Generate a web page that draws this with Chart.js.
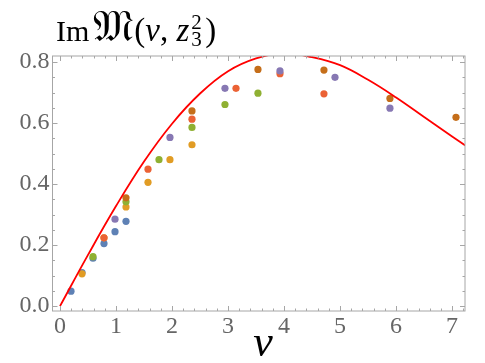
<!DOCTYPE html>
<html>
<head>
<meta charset="utf-8">
<script src="https://cdn.jsdelivr.net/npm/chart.js@4"></script>
<style>
  html, body { margin: 0; padding: 0; background: #fff; }
  #wrap { position: relative; width: 485px; height: 363px; }
  #title {
    position: absolute; left: 56px; top: 5px; height: 44px;
    font-family: 'Liberation Serif', 'DejaVu Serif', serif; font-size: 30px; line-height: 44px;
    color: #000; white-space: nowrap;
  }
  #title .frak { font-size: 44px; margin-left: 4px; margin-right: 1px; }
  #title .m { font-size: 33px; }
  #title .ss { display: inline-block; position: relative; width: 16px; height: 1px; }
  #title .ss span { position: absolute; left: 2px; font-size: 21px; line-height: 21px; }
  #title .ss .sup { bottom: 8px; }
  #title .ss .sub { bottom: -9px; }
  #xlabel {
    position: absolute; left: 200px; width: 126px; top: 320px; text-align: center;
    font: italic 44px 'Liberation Serif', 'DejaVu Serif', serif; line-height: 44px;
  }
</style>
</head>
<body>
<div id="wrap">
  <canvas id="chart" width="485" height="363"></canvas>
  <div id="title">Im<span class="frak">&#x1D510;</span><span class="m">(<i>ν</i>, <i>z</i><span class="ss"><span class="sup">2</span><span class="sub">3</span></span>)</span></div>
  <div id="xlabel">ν</div>
</div>
<script>
// nu values and Im M for each z
const blueNu = [0.196, 0.393, 0.589, 0.785, 0.982, 1.178]
const blueIm = [0.049, 0.110, 0.157, 0.205, 0.244, 0.278]
const orangeNu = [0.393, 0.785, 1.178, 1.571, 1.963, 2.356]
const orangeIm = [0.106, 0.224, 0.325, 0.406, 0.480, 0.529]
const greenNu = [0.589, 1.178, 1.767, 2.356, 2.945, 3.534]
const greenIm = [0.162, 0.342, 0.480, 0.586, 0.661, 0.698]
const redNu = [0.785, 1.571, 2.356, 3.142, 3.927, 4.712]
const redIm = [0.224, 0.449, 0.613, 0.714, 0.762, 0.696]
const purpleNu = [0.982, 1.963, 2.945, 3.927, 4.909, 5.890]
const purpleIm = [0.285, 0.553, 0.714, 0.771, 0.750, 0.649]
const brownNu = [1.178, 2.356, 3.534, 4.712, 5.890, 7.069]
const brownIm = [0.355, 0.640, 0.776, 0.774, 0.681, 0.619]

// red curve
const curveNu = [0, 0.5, 1.0, 1.5, 2.0, 2.5, 3.0, 3.5, 4.0, 4.5, 5.0, 5.5, 6.0, 6.5, 7.0, 7.25]
const curveIm = [0, 0.168, 0.328, 0.474, 0.598, 0.697, 0.77, 0.812, 0.829, 0.816, 0.79, 0.742, 0.684, 0.62, 0.556, 0.525]

const xTicks = [0, 1, 2, 3, 4, 5, 6, 7]
const yTicks = [0.0, 0.2, 0.4, 0.6, 0.8]

const toPts = (xs, ys) => xs.map((x, i) => ({ x, y: ys[i] }))

function dots(xs, ys, color, order) {
  return {
    type: 'scatter',
    data: toPts(xs, ys),
    backgroundColor: color,
    borderColor: color,
    borderWidth: 0,
    pointRadius: 3.6,
    pointHoverRadius: 3.6,
    order
  }
}

// mathematica style frame with inward ticks on all four sides
const frameTicks = {
  id: 'frameTicks',
  afterDraw(chart) {
    const { ctx, chartArea: a, scales } = chart
    const xs = scales.x, ys = scales.y
    ctx.save()
    ctx.strokeStyle = '#a6a6a6'
    ctx.lineWidth = 1
    ctx.strokeRect(a.left, a.top, a.right - a.left, a.bottom - a.top)
    ctx.beginPath()
    for (let i = 0; i <= 36; i++) {
      const v = i * 0.2
      const px = Math.round(xs.getPixelForValue(v)) + 0.5
      if (px > a.right) break
      const len = i % 5 === 0 ? 5 : 2.5
      ctx.moveTo(px, a.bottom); ctx.lineTo(px, a.bottom - len)
      ctx.moveTo(px, a.top); ctx.lineTo(px, a.top + len)
    }
    for (let i = 0; i <= 16; i++) {
      const v = i * 0.05
      const py = Math.round(ys.getPixelForValue(v)) + 0.5
      if (py < a.top) break
      const len = i % 4 === 0 ? 5 : 2.5
      ctx.moveTo(a.left, py); ctx.lineTo(a.left + len, py)
      ctx.moveTo(a.right, py); ctx.lineTo(a.right - len, py)
    }
    ctx.stroke()
    ctx.restore()
  }
}

const tickFont = { family: "'Liberation Serif', 'DejaVu Serif', serif", size: 24 }

new Chart(document.getElementById('chart'), {
  type: 'scatter',
  data: {
    datasets: [
      {
        type: 'line',
        data: toPts(curveNu, curveIm),
        borderColor: '#ff0000',
        borderWidth: 1.8,
        pointRadius: 0,
        fill: false,
        tension: 0.4,
        order: 0
      },
      dots(brownNu, brownIm, '#C56E1A', 1),
      dots(purpleNu, purpleIm, '#8778B3', 2),
      dots(redNu, redIm, '#EB6235', 3),
      dots(greenNu, greenIm, '#8FB032', 4),
      dots(orangeNu, orangeIm, '#E19C24', 5),
      dots(blueNu, blueIm, '#5E81B5', 6)
    ]
  },
  options: {
    responsive: false,
    animation: false,
    layout: { padding: { top: 56, right: 20, left: 0, bottom: 0 } },
    plugins: { legend: { display: false }, tooltip: { enabled: false } },
    scales: {
      x: {
        type: 'linear',
        min: -0.134,
        max: 7.23,
        afterFit: s => { s.height = 52 },
        afterBuildTicks: s => { s.ticks = xTicks.map(v => ({ value: v })) },
        grid: { display: false, drawTicks: false },
        border: { display: false },
        ticks: { font: tickFont, color: '#666', padding: 1, maxRotation: 0, autoSkip: false,
          callback: v => String(v) }
      },
      y: {
        type: 'linear',
        min: -0.016,
        max: 0.82,
        afterFit: s => { s.width = 52.5 },
        afterBuildTicks: s => { s.ticks = yTicks.map(v => ({ value: v })) },
        grid: { display: false, drawTicks: false },
        border: { display: false },
        ticks: { font: tickFont, color: '#666', padding: 3, autoSkip: false,
          callback: v => Number(v).toFixed(1) }
      }
    }
  },
  plugins: [frameTicks]
})
</script>
</body>
</html>
